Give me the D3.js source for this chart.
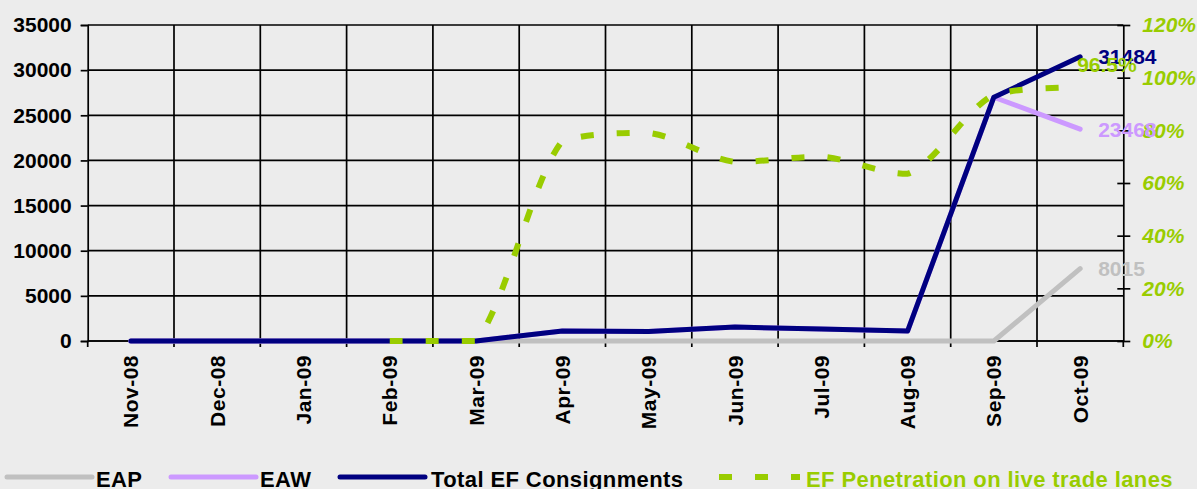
<!DOCTYPE html>
<html>
<head>
<meta charset="utf-8">
<script src="https://cdn.jsdelivr.net/npm/d3@7"></script>
<style>
  html, body { margin: 0; padding: 0; background: #ECECEC; }
  svg { display: block; }
  text { font-family: "Liberation Sans", Arial, sans-serif; font-weight: bold; }
</style>
</head>
<body>
<svg id="chart" width="1197" height="489"></svg>
<script>
// ---- data ----
const months = ["Nov-08","Dec-08","Jan-09","Feb-09","Mar-09","Apr-09","May-09","Jun-09","Jul-09","Aug-09","Sep-09","Oct-09"];
const eap   = [0,0,0,0,0,0,0,0,0,0,0,8015];
const eaw   = [0,0,0,0,0,1100,1050,1550,1330,1100,27000,23468];
const total = [0,0,0,0,0,1100,1050,1550,1330,1100,27000,31484];
const penetration = [null,null,null,0,0,0.76,0.79,0.68,0.70,0.635,0.935,0.965];
const leftTicks = [0,5000,10000,15000,20000,25000,30000,35000];
const rightTicks = [0,0.2,0.4,0.6,0.8,1.0,1.2];
const seriesNames = ["EAP","EAW","Total EF Consignments","EF Penetration on live trade lanes"];

// ---- layout ----
const W = 1197, H = 489;
const L = 87.7, R = 1123.3, T = 25, B = 341;
const colors = { eap: "#C0C0C0", eaw: "#CC99FF", total: "#000080", pen: "#99CC00" };

// smoothed curve (Catmull-Rom style Bezier, control points kept inside each segment's range)
function SmoothCurve(context) { this._context = context; }
SmoothCurve.prototype = {
  areaStart() { this._line = 0; },
  areaEnd() { this._line = NaN; },
  lineStart() { this._pts = []; },
  point(px, py) { this._pts.push([+px, +py]); },
  lineEnd() {
    const p = this._pts, c = this._context;
    if (!p.length) return;
    c.moveTo(p[0][0], p[0][1]);
    for (let i = 0; i < p.length - 1; i++) {
      const p0 = p[i - 1] || p[i], p1 = p[i], p2 = p[i + 1], p3 = p[i + 2] || p[i + 1];
      const lo = Math.min(p1[1], p2[1]), hi = Math.max(p1[1], p2[1]);
      const c1x = p1[0] + (p2[0] - p0[0]) / 6, c1y = Math.max(lo, Math.min(hi, p1[1] + (p2[1] - p0[1]) / 6));
      const c2x = p2[0] - (p3[0] - p1[0]) / 6, c2y = Math.max(lo, Math.min(hi, p2[1] - (p3[1] - p1[1]) / 6));
      c.bezierCurveTo(c1x, c1y, c2x, c2y, p2[0], p2[1]);
    }
  }
};
const curveSmooth = ctx => new SmoothCurve(ctx);

const svg = d3.select("#chart");
svg.append("rect").attr("width", W).attr("height", H).attr("fill", "#ECECEC");

const x = d3.scaleBand().domain(months).range([L, R]).padding(0);
const xc = m => x(m) + x.bandwidth() / 2;
const y = d3.scaleLinear().domain([0, 35000]).range([B, T]);
const y2 = d3.scaleLinear().domain([0, 1.2]).range([B, T]);

// grid: horizontal
svg.append("g").selectAll("line").data(leftTicks).join("line")
  .attr("x1", L).attr("x2", R).attr("y1", d => y(d)).attr("y2", d => y(d))
  .attr("stroke", "#000").attr("stroke-width", 1.7);
// grid: vertical at category boundaries
svg.append("g").selectAll("line").data(months.slice(1)).join("line")
  .attr("x1", d => x(d)).attr("x2", d => x(d)).attr("y1", T).attr("y2", B)
  .attr("stroke", "#000").attr("stroke-width", 1.7);

// left axis
const yAxis = d3.axisLeft(y).tickValues(leftTicks).tickSize(7).tickPadding(9).tickFormat(d3.format("d"));
const gy = svg.append("g").attr("transform", `translate(${L},0)`).call(yAxis);
gy.select(".domain").attr("stroke", "#000").attr("stroke-width", 1.7);
gy.selectAll(".tick line").attr("stroke", "#000").attr("stroke-width", 1.7);
gy.selectAll(".tick text").attr("fill", "#000").style("font-size", "21px").style("font-weight", "bold")
  .style("font-family", '"Liberation Sans", Arial, sans-serif');

// right axis
const y2Axis = d3.axisRight(y2).tickValues(rightTicks).tickSizeInner(7).tickSizeOuter(0).tickPadding(12).tickFormat(d3.format(".0%"));
const gy2 = svg.append("g").attr("transform", `translate(${R},0)`).call(y2Axis);
gy2.select(".domain").attr("stroke", "#000").attr("stroke-width", 1.7);
gy2.selectAll(".tick line").attr("x1", -6).attr("x2", 7).attr("stroke", "#000").attr("stroke-width", 1.7);
gy2.selectAll(".tick text").attr("fill", colors.pen).style("font-size", "21px").style("font-weight", "bold")
  .style("font-style", "italic").style("font-family", '"Liberation Sans", Arial, sans-serif');

// bottom axis
svg.append("line").attr("x1", L).attr("x2", R).attr("y1", B).attr("y2", B)
  .attr("stroke", "#000").attr("stroke-width", 1.7);
svg.append("g").selectAll("line").data(months.concat(["__end"])).join("line")
  .attr("x1", (d, i) => L + i * x.bandwidth()).attr("x2", (d, i) => L + i * x.bandwidth())
  .attr("y1", B).attr("y2", B + 6).attr("stroke", "#000").attr("stroke-width", 1.7);
svg.append("g").selectAll("text").data(months).join("text")
  .attr("transform", d => `translate(${xc(d)},${B + 14}) rotate(-90)`)
  .attr("text-anchor", "end").attr("dy", "0.36em")
  .style("font-size", "21px").style("letter-spacing", "0.5px").attr("fill", "#000").text(d => d);

// lines
const lineL = d3.line().x((d, i) => xc(months[i])).y(d => y(d));
const addLine = (data, color) => svg.append("path").datum(data)
  .attr("d", lineL).attr("fill", "none").attr("stroke", color).attr("stroke-width", 5)
  .attr("stroke-linejoin", "round").attr("stroke-linecap", "round");
addLine(eap, colors.eap);
addLine(eaw, colors.eaw);
addLine(total, colors.total);

const penLine = d3.line().defined(d => d != null)
  .x((d, i) => xc(months[i])).y(d => y2(d)).curve(curveSmooth);
svg.append("path").datum(penetration)
  .attr("d", penLine).attr("fill", "none").attr("stroke", colors.pen).attr("stroke-width", 6)
  .attr("stroke-dasharray", "13,23");

// data labels (last point)
const last = months.length - 1;
const lx = xc(months[last]);
svg.append("text").attr("x", lx + 18).attr("y", y(eap[last])).attr("dy", "0.36em")
  .style("font-size", "21px").attr("fill", colors.eap).text(eap[last]);
svg.append("text").attr("x", lx + 18).attr("y", y(eaw[last])).attr("dy", "0.36em")
  .style("font-size", "21px").attr("fill", colors.eaw).text(eaw[last]);
svg.append("text").attr("x", lx + 18).attr("y", y(total[last])).attr("dy", "0.36em")
  .style("font-size", "21px").attr("fill", colors.total).text(total[last]);
svg.append("text").attr("x", lx - 3).attr("y", y2(penetration[last]) - 22).attr("dy", "0.36em")
  .style("font-size", "21px").attr("fill", colors.pen).text(d3.format(".1%")(penetration[last]));

// legend
const legY = 477, legBase = 487;
const legItems = [
  { name: seriesNames[0], color: colors.eap, x1: 7, x2: 92, tx: 96, dash: null },
  { name: seriesNames[1], color: colors.eaw, x1: 171, x2: 256, tx: 260, dash: null },
  { name: seriesNames[2], color: colors.total, x1: 340, x2: 425, tx: 431, dash: null },
  { name: seriesNames[3], color: colors.pen, x1: 719, x2: 800, tx: 806, dash: "13,23" }
];
const lg = svg.append("g");
legItems.forEach(it => {
  const ln = lg.append("line").attr("x1", it.x1).attr("x2", it.x2).attr("y1", legY).attr("y2", legY)
    .attr("stroke", it.color);
  if (it.dash) ln.attr("stroke-width", 6).attr("stroke-dasharray", it.dash);
  else ln.attr("stroke-width", 5).attr("stroke-linecap", "round");
  lg.append("text").attr("x", it.tx).attr("y", legBase).style("font-size", "22px")
    .style("letter-spacing", "0.4px")
    .attr("fill", it.color === colors.pen ? colors.pen : "#000").text(it.name);
});
</script>
</body>
</html>
